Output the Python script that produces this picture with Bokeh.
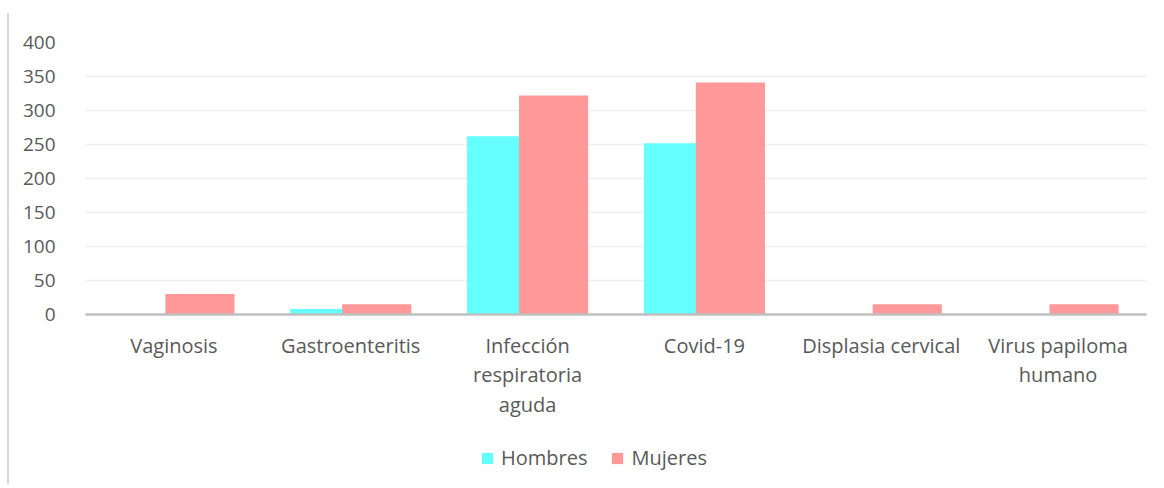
from bokeh.plotting import figure
from bokeh.models import ColumnDataSource, FactorRange, Legend, LegendItem, Range1d
from bokeh.layouts import column
from bokeh.transform import dodge
from bokeh.embed import file_html
from bokeh.resources import INLINE

categories = ["Vaginosis", "Gastroenteritis", "Infección\nrespiratoria\naguda",
              "Covid-19", "Displasia cervical", "Virus papiloma\nhumano"]
hombres = [0, 8, 262, 252, 0, 0]
mujeres = [30, 15, 322, 341, 15, 15]
y_ticks = [0, 50, 100, 150, 200, 250, 300, 350, 400]
series = ["Hombres", "Mujeres"]
colors = ["#66FFFF", "#FF9999"]

source = ColumnDataSource(dict(cat=categories, hombres=hombres, mujeres=mujeres))

FONT = "Open Sans"
TXT = "#595959"

p = figure(x_range=FactorRange(*categories), y_range=Range1d(0, 400),
           frame_width=1059, frame_height=272,
           output_backend="svg", toolbar_location=None)
p.min_border_left = 76
p.min_border_top = 29
p.min_border_right = 12
p.min_border_bottom = 100
p.outline_line_color = None
p.background_fill_color = "white"
p.border_fill_color = "white"
p.styles = {"border-left": "2px solid #d9d9d9", "margin-left": "7px", "margin-top": "13px"}

p.vbar(x=dodge("cat", -0.147, range=p.x_range), top="hombres", width=0.391,
       source=source, fill_color=colors[0], line_color=None)
p.vbar(x=dodge("cat", 0.147, range=p.x_range), top="mujeres", width=0.391,
       source=source, fill_color=colors[1], line_color=None)

p.yaxis.ticker = y_ticks
p.yaxis.axis_line_color = None
p.yaxis.major_tick_line_color = None
p.yaxis.minor_tick_line_color = None
p.yaxis.major_label_standoff = 24
p.yaxis.major_label_text_font = FONT
p.yaxis.major_label_text_font_size = "19px"
p.yaxis.major_label_text_color = TXT

p.xaxis.axis_line_color = "#BFBFBF"
p.xaxis.axis_line_width = 2.5
p.xaxis.major_tick_line_color = None
p.xaxis.minor_tick_line_color = None
p.xaxis.major_label_standoff = 11
p.xaxis.major_label_text_font = FONT
p.xaxis.major_label_text_font_size = "20px"
p.xaxis.major_label_text_color = TXT
p.xaxis.major_label_text_line_height = 1.1
p.xaxis.group_text_font_size = "0px"

p.xgrid.grid_line_color = None
p.ygrid.grid_line_color = "#EFEFEF"
p.ygrid.grid_line_width = 1.5

# Legend figure (series swatches drawn out of view, only the legend shows)
lf = figure(width=1147, height=64, x_range=Range1d(0, 1), y_range=Range1d(1000, 1001),
            x_axis_type=None, y_axis_type=None, output_backend="svg",
            toolbar_location=None, min_border=0)
lf.outline_line_color = None
lf.background_fill_alpha = 0
lf.border_fill_alpha = 0
lf.grid.visible = False
lf.styles = {"border-left": "2px solid #d9d9d9", "margin-left": "7px"}
items = []
for name, col in zip(series, colors):
    r = lf.vbar(x=[0.5], top=[1], width=0.1, fill_color=col, line_color=None)
    items.append(LegendItem(label=name, renderers=[r]))
legend = Legend(items=items, orientation="horizontal", location=(395, 13))
legend.label_text_font = FONT
legend.label_text_font_size = "20px"
legend.label_text_color = TXT
legend.glyph_width = 14
legend.glyph_height = 14
legend.spacing = 23
legend.label_standoff = 7
legend.border_line_color = None
legend.background_fill_alpha = 0
legend.margin = 0
legend.padding = 0
lf.add_layout(legend)

layout = column(p, lf, spacing=0)
open("out.html", "w").write(file_html(layout, INLINE))
